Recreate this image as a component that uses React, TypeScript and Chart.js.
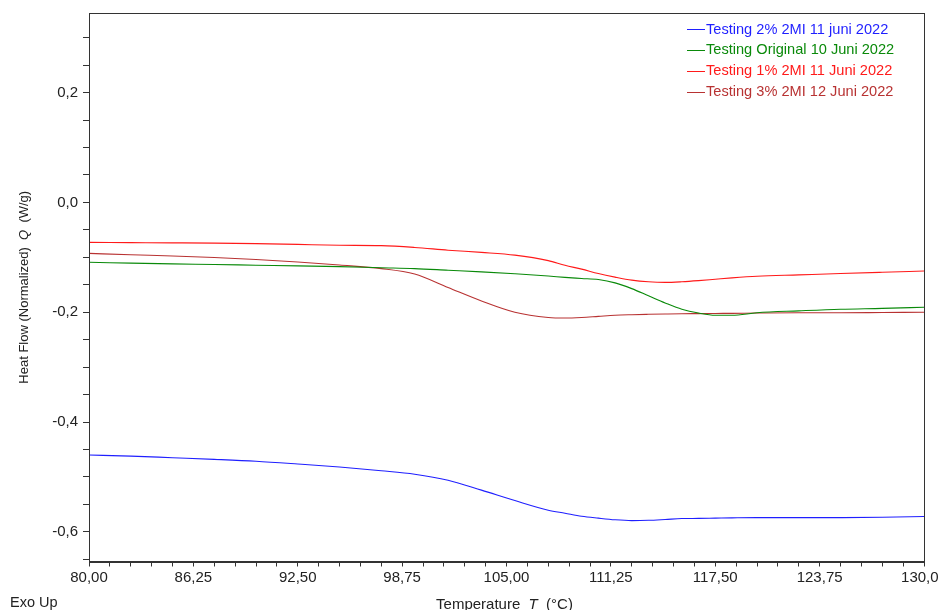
import React, { useEffect, useRef } from "react";
import { Chart, registerables } from "chart.js";

Chart.register(...registerables);

// Temperature (°C) sample positions
const temps = [80, 82.5, 85, 87.5, 90, 92.5, 95, 97.5, 99.5, 101.5, 103.5, 105.5, 107.5, 108.5, 109.5, 110.5, 111.5, 112.5, 113.5, 114.5, 115.5, 116.5, 117.5, 118.5, 120, 122.5, 125, 127.5, 130];

// Heat flow (W/g)
const testing2pct = [-0.460, -0.462, -0.465, -0.468, -0.4715, -0.4765, -0.482, -0.4887, -0.495, -0.506, -0.524, -0.543, -0.5605, -0.566, -0.5715, -0.575, -0.578, -0.5795, -0.579, -0.5775, -0.5758, -0.5755, -0.575, -0.5745, -0.574, -0.574, -0.574, -0.5735, -0.572];
const testingOriginal = [-0.109, -0.1105, -0.112, -0.113, -0.1143, -0.1155, -0.117, -0.119, -0.1205, -0.1235, -0.1265, -0.130, -0.134, -0.1365, -0.1385, -0.1405, -0.1465, -0.157, -0.170, -0.183, -0.1945, -0.2015, -0.2055, -0.2055, -0.201, -0.1975, -0.1945, -0.193, -0.191];
const testing1pct = [-0.0728, -0.0732, -0.0736, -0.0741, -0.075, -0.0765, -0.078, -0.0787, -0.082, -0.087, -0.091, -0.096, -0.106, -0.1145, -0.1215, -0.1295, -0.136, -0.1415, -0.1445, -0.1456, -0.1445, -0.1425, -0.140, -0.1375, -0.1345, -0.132, -0.1295, -0.1272, -0.125];
const testing3pct = [-0.0928, -0.0953, -0.0975, -0.1003, -0.104, -0.1085, -0.114, -0.1205, -0.1305, -0.155, -0.1795, -0.200, -0.2095, -0.2105, -0.2095, -0.2075, -0.2055, -0.2045, -0.2038, -0.2032, -0.2027, -0.2025, -0.2022, -0.202, -0.2015, -0.201, -0.201, -0.2005, -0.200];

const seriesLabels = [
  "Testing 2% 2MI 11 juni 2022",
  "Testing Original 10 Juni 2022",
  "Testing 1% 2MI 11 Juni 2022",
  "Testing 3% 2MI 12 Juni 2022",
];
const seriesColors = ["#1f1fff", "#0a8a0a", "#ff1a1a", "#b83232"];

const xMajorTicks = [80, 86.25, 92.5, 98.75, 105, 111.25, 117.5, 123.75, 130];
const xMajorLabels = ["80,00", "86,25", "92,50", "98,75", "105,00", "111,25", "117,50", "123,75", "130,00"];
const xMinorStep = 1.25;
const yMajorTicks = [0.2, 0, -0.2, -0.4, -0.6];
const yMajorLabels = ["0,2", "0,0", "-0,2", "-0,4", "-0,6"];
const yMinorStep = 0.05;

const X_MIN = 80, X_MAX = 130;
const Y_MIN = -0.654, Y_MAX = 0.345;

const FONT = '"Liberation Sans", Arial, sans-serif';
const TEXT = "#222";

function stepTicks(min: number, max: number, step: number) {
  const out: { value: number }[] = [];
  const start = Math.ceil(min / step - 1e-9);
  const end = Math.floor(max / step + 1e-9);
  for (let i = start; i <= end; i++) out.push({ value: +(i * step).toFixed(6) });
  return out;
}

function drawParts(ctx: CanvasRenderingContext2D, parts: { t: string; it?: boolean }[], cx: number, y: number, size: number) {
  let total = 0;
  const widths = parts.map((p) => {
    ctx.font = `${p.it ? "italic " : ""}${size}px ${FONT}`;
    const w = ctx.measureText(p.t).width;
    total += w;
    return w;
  });
  let x = cx - total / 2;
  parts.forEach((p, i) => {
    ctx.font = `${p.it ? "italic " : ""}${size}px ${FONT}`;
    ctx.fillText(p.t, x, y);
    x += widths[i];
  });
}

const decorPlugin = {
  id: "decor",
  afterDraw(chart: any) {
    const ctx: CanvasRenderingContext2D = chart.ctx;
    const { left, top, right, bottom } = chart.chartArea;
    const xs = chart.scales.x;
    const ys = chart.scales.y;
    ctx.save();
    // frame
    ctx.strokeStyle = "#333";
    ctx.lineWidth = 1;
    ctx.strokeRect(Math.round(left) + 0.5, Math.round(top) + 0.5, Math.round(right - left), Math.round(bottom - top));

    ctx.fillStyle = TEXT;
    ctx.font = `15px ${FONT}`;
    // y tick labels
    ctx.textAlign = "right";
    ctx.textBaseline = "middle";
    yMajorTicks.forEach((v, i) => {
      ctx.fillText(yMajorLabels[i], left - 11, ys.getPixelForValue(v));
    });
    // x tick labels
    ctx.textAlign = "center";
    xMajorTicks.forEach((v, i) => {
      ctx.fillText(xMajorLabels[i], xs.getPixelForValue(v), bottom + 16);
    });

    // axis titles
    ctx.textAlign = "left";
    ctx.textBaseline = "alphabetic";
    drawParts(ctx, [{ t: "Temperature  " }, { t: "T", it: true }, { t: "  (°C)" }], (left + right) / 2 - 2, 609, 15);
    ctx.save();
    ctx.translate(28, (top + bottom) / 2);
    ctx.rotate(-Math.PI / 2);
    drawParts(ctx, [{ t: "Heat Flow (Normalized)  " }, { t: "Q", it: true }, { t: "  (W/g)" }], 0, 0, 13);
    ctx.restore();

    ctx.font = `14.5px ${FONT}`;
    ctx.fillText("Exo Up", 10, 607);

    // legend
    ctx.font = `14.6px ${FONT}`;
    ctx.textBaseline = "middle";
    chart.data.datasets.forEach((ds: any, i: number) => {
      const y = 29 + i * 20.9;
      ctx.strokeStyle = ds.borderColor;
      ctx.beginPath();
      ctx.moveTo(687, Math.round(y) + 0.5);
      ctx.lineTo(705, Math.round(y) + 0.5);
      ctx.stroke();
      ctx.fillStyle = ds.borderColor;
      ctx.fillText(ds.label, 706, y + 0.5);
    });
    ctx.restore();
  },
};

export default function App() {
  const ref = useRef<HTMLCanvasElement | null>(null);
  useEffect(() => {
    document.body.style.margin = "0";
    const canvas = ref.current!;
    const allSeries = [testing2pct, testingOriginal, testing1pct, testing3pct];
    const chart = new Chart(canvas, {
      type: "line",
      data: {
        datasets: allSeries.map((vals, i) => ({
          label: seriesLabels[i],
          data: temps.map((t, j) => ({ x: t, y: vals[j] })),
          borderColor: seriesColors[i],
          backgroundColor: seriesColors[i],
          borderWidth: 1.1,
          pointRadius: 0,
          fill: false,
          cubicInterpolationMode: "monotone" as const,
        })),
      },
      options: {
        responsive: false,
        animation: false,
        events: [],
        layout: { padding: { top: 13, right: 15, left: 0, bottom: 0 } },
        plugins: { legend: { display: false }, tooltip: { enabled: false } },
        scales: {
          x: {
            type: "linear",
            min: X_MIN,
            max: X_MAX,
            afterBuildTicks: (s: any) => { s.ticks = stepTicks(X_MIN, X_MAX, xMinorStep); },
            afterFit: (s: any) => { s.height = 48.5; },
            ticks: { display: false },
            grid: { display: true, drawOnChartArea: false, drawTicks: true, tickLength: 5, color: "#333", lineWidth: 1 },
            border: { display: true, color: "#333" },
          },
          y: {
            type: "linear",
            min: Y_MIN,
            max: Y_MAX,
            afterBuildTicks: (s: any) => { s.ticks = stepTicks(Y_MIN, Y_MAX, yMinorStep); },
            afterFit: (s: any) => { s.width = 89; },
            ticks: { display: false },
            grid: { display: true, drawOnChartArea: false, drawTicks: true, tickLength: 6, color: "#333", lineWidth: 1 },
            border: { display: true, color: "#333" },
          },
        },
      },
      plugins: [decorPlugin],
    });
    return () => chart.destroy();
  }, []);
  return <canvas ref={ref} width={939} height={610} style={{ display: "block" }} />;
}
